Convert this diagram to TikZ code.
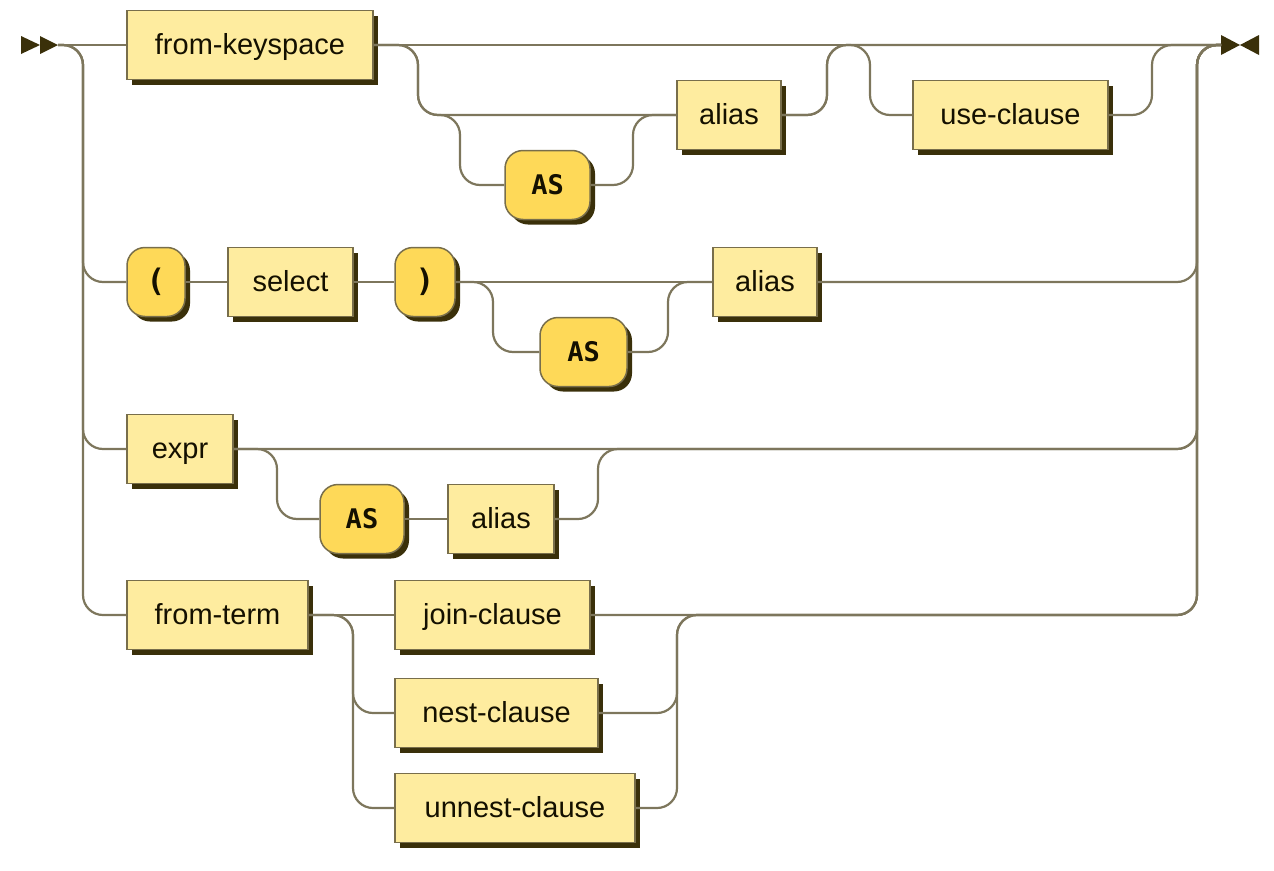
\documentclass[tikz,border=0pt]{standalone}
\usepackage{fontspec}
\setmainfont{Liberation Sans}
\newfontfamily\termfont{DejaVu Sans Mono}
\usetikzlibrary{shadows}
\definecolor{rail}{RGB}{125,118,92}
\definecolor{ntfill}{RGB}{254,236,159}
\definecolor{tfill}{RGB}{254,217,88}
\definecolor{shad}{RGB}{58,48,10}
\definecolor{bord}{RGB}{120,110,75}
\definecolor{txt}{RGB}{20,16,0}
\begin{document}
\begin{tikzpicture}[x=1pt,y=-1pt,
  nt/.style={draw=bord, line width=1.5pt, fill=ntfill, minimum height=69pt, inner sep=0pt,
    text height=21pt, text depth=3pt,
    general shadow={fill=shad, shadow xshift=5pt, shadow yshift=-5pt},
    font=\fontsize{29}{32}\selectfont, text=txt},
  tm/.style={nt, fill=tfill, rounded corners=18pt, font=\termfont\bfseries\fontsize{27}{30}\selectfont},
  paren/.style={tm, font=\termfont\bfseries\fontsize{31}{34}\selectfont},
  rr/.style={draw=rail, line width=2.2pt, rounded corners=20pt},
  endmark/.style={fill=shad}]
\useasboundingbox (0,0) rectangle (1274,870);
% nodes
\node[nt, minimum width=246pt] (fk) at (250,45) {from-keyspace};
\node[nt, minimum width=104pt] (al1) at (729,115) {alias};
\node[nt, minimum width=195pt] (uc) at (1010.5,115) {use-clause};
\node[tm, minimum width=85pt] (as1) at (547.5,185) {AS};
\node[paren, minimum width=58pt] (lp) at (156,282) {(};
\node[nt, minimum width=125pt] (sel) at (290.5,282) {select};
\node[paren, minimum width=60pt] (rp) at (425,282) {)};
\node[tm, minimum width=87pt] (as2) at (583.5,352) {AS};
\node[nt, minimum width=104pt] (al2) at (765,282) {alias};
\node[nt, minimum width=106pt] (ex) at (180,449) {expr};
\node[tm, minimum width=84pt] (as3) at (362,519) {AS};
\node[nt, minimum width=106pt] (al3) at (501,519) {alias};
\node[nt, minimum width=181pt] (ft) at (217.5,615) {from-term};
\node[nt, minimum width=195pt] (jc) at (492.5,615) {join-clause};
\node[nt, minimum width=203pt] (nc) at (496.5,713) {nest-clause};
\node[nt, minimum width=240pt] (un) at (515,808) {unnest-clause};
% start / end
\coordinate (S) at (58,45);
\coordinate (E) at (1221,45);
\fill[endmark] (21,36) -- (40,45) -- (21,54) -- cycle;
\fill[endmark] (40,36) -- (58,45) -- (40,54) -- cycle;
\fill[endmark] (1221,35) -- (1240,45) -- (1221,55) -- cycle;
\fill[endmark] (1259,35) -- (1240,45) -- (1259,55) -- cycle;
% main line
\draw[rr] (S) -- (fk.west);
\draw[rr] (fk.east) -- (E);
% left rail
\draw[rr] (S) -- (83,45) -- (83,282) -- (lp.west);
\draw[rr] (S) -- (83,45) -- (83,449) -- (ex.west);
\draw[rr] (S) -- (83,45) -- (83,615) -- (ft.west);
% row 1
\draw[rr] (fk.east) -- (418,45) -- (418,115) -- (al1.west);
\draw[rr] (fk.east) -- (418,45) -- (418,115) -- (460,115) -- (460,185) -- (as1.west);
\draw[rr] (as1.east) -- (633,185) -- (633,115) -- (al1.west);
\draw[rr] (al1.east) -- (827,115) -- (827,45) -- (E);
\draw[rr] (al1.east) -- (827,115) -- (827,45) -- (870,45) -- (870,115) -- (uc.west);
\draw[rr] (uc.east) -- (1152,115) -- (1152,45) -- (E);
% row 2
\draw[rr] (lp.east) -- (sel.west);
\draw[rr] (sel.east) -- (rp.west);
\draw[rr] (rp.east) -- (al2.west);
\draw[rr] (rp.east) -- (493,282) -- (493,352) -- (as2.west);
\draw[rr] (as2.east) -- (668,352) -- (668,282) -- (al2.west);
\draw[rr] (al2.east) -- (1197,282) -- (1197,45) -- (E);
% row 3
\draw[rr] (ex.east) -- (1197,449) -- (1197,45) -- (E);
\draw[rr] (ex.east) -- (277,449) -- (277,519) -- (as3.west);
\draw[rr] (as3.east) -- (al3.west);
\draw[rr] (al3.east) -- (598,519) -- (598,449) -- (1197,449) -- (1197,45) -- (E);
% row 4
\draw[rr] (ft.east) -- (jc.west);
\draw[rr] (ft.east) -- (353,615) -- (353,713) -- (nc.west);
\draw[rr] (ft.east) -- (353,615) -- (353,808) -- (un.west);
\draw[rr] (jc.east) -- (1197,615) -- (1197,45) -- (E);
\draw[rr] (nc.east) -- (677,713) -- (677,615) -- (1197,615) -- (1197,45) -- (E);
\draw[rr] (un.east) -- (677,808) -- (677,615) -- (1197,615) -- (1197,45) -- (E);
\end{tikzpicture}
\end{document}
